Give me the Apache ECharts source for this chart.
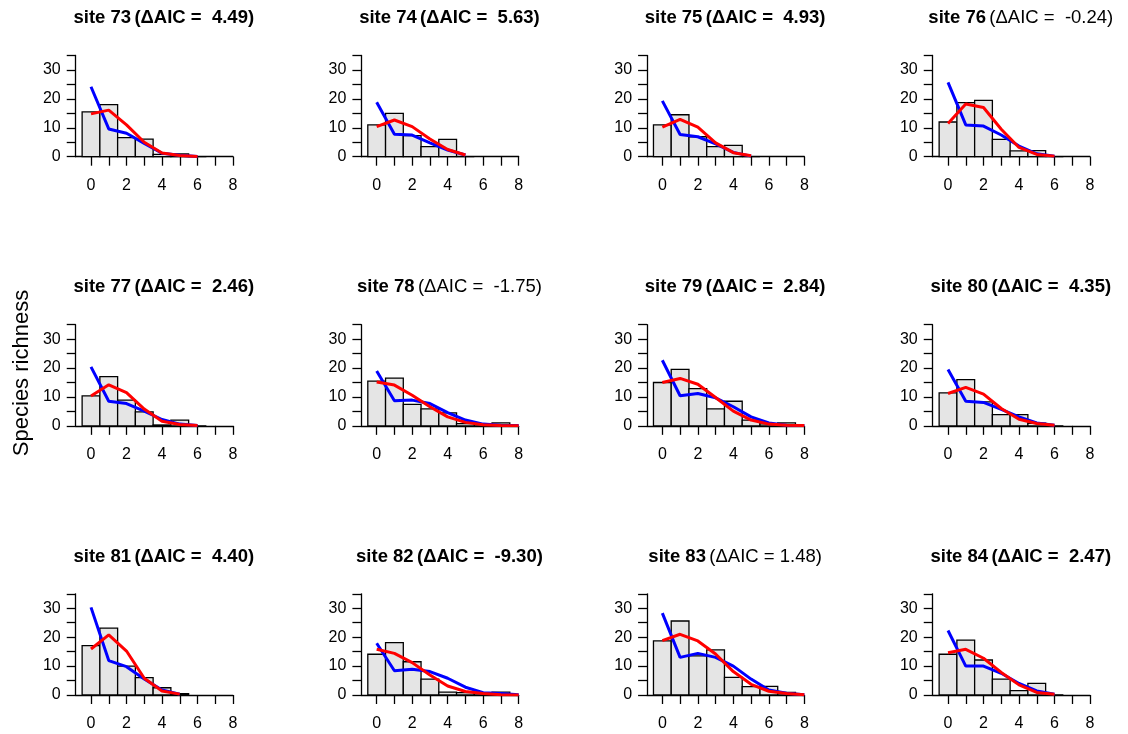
<!DOCTYPE html>
<html>
<head>
<meta charset="utf-8">
<script src="https://cdn.jsdelivr.net/npm/echarts@6/dist/echarts.min.js"></script>
<style>
  html, body { margin: 0; padding: 0; background: #fff; }
  #chart { width: 1128px; height: 734px; }
</style>
</head>
<body>
<div id="chart"></div>
<script>
// Site identifiers and model comparison per panel
const sites = [73, 74, 75, 76, 77, 78, 79, 80, 81, 82, 83, 84];
const deltaAIC = [4.49, 5.63, 4.93, -0.24, 2.46, -1.75, 2.84, 4.35, 4.40, -9.30, 1.48, 2.47];
const aicLabels = [
  '(ΔAIC =  4.49)', '(ΔAIC =  5.63)', '(ΔAIC =  4.93)', '(ΔAIC =  -0.24)',
  '(ΔAIC =  2.46)', '(ΔAIC =  -1.75)', '(ΔAIC =  2.84)', '(ΔAIC =  4.35)',
  '(ΔAIC =  4.40)', '(ΔAIC =  -9.30)', '(ΔAIC = 1.48)', '(ΔAIC =  2.47)'
];

// Observed species richness per class (histogram bars, classes 0,1,2,...)
const observed = [
  [15.5, 18.0, 6.6, 6.1, 0.8, 1.0, 0.0],
  [11.0, 15.0, 7.3, 3.5, 6.0, 0.0],
  [11.0, 14.5, 6.9, 3.5, 3.9, 0.0],
  [12.0, 18.7, 19.5, 6.0, 2.0, 2.1, 0.0],
  [10.4, 17.0, 8.9, 4.8, 0.3, 2.0, 0.0],
  [15.5, 16.5, 7.4, 5.9, 4.5, 0.8, 0.0, 1.0],
  [15.0, 19.5, 12.9, 5.9, 8.5, 2.0, 0.7, 1.0],
  [11.4, 16.0, 8.3, 3.9, 3.9, 0.9, 0.0],
  [17.1, 23.1, 10.0, 6.0, 2.5, 0.5],
  [14.1, 18.1, 11.5, 5.5, 1.0, 0.8, 0.8, 1.0],
  [18.7, 25.6, 13.5, 15.6, 6.1, 2.9, 3.0, 0.9],
  [14.1, 19.0, 12.1, 5.5, 1.5, 4.0, 0.0]
];

// First fitted model (blue)
const fitBlue = [
  [24.2, 9.6, 8.1, 4.6, 1.2, 0.5, 0.1],
  [18.8, 7.8, 7.5, 4.8, 2.3, 0.6],
  [19.3, 7.7, 6.9, 4.4, 1.5, 0.2],
  [25.7, 11.0, 10.6, 7.5, 3.7, 1.0, 0.2],
  [20.4, 8.5, 7.7, 5.1, 2.2, 0.6, 0.1],
  [19.0, 8.7, 8.9, 7.7, 4.6, 2.0, 0.6, 0.2, 0.1],
  [22.7, 10.4, 11.2, 9.7, 6.6, 3.1, 1.0, 0.2, 0.1],
  [19.5, 8.5, 8.1, 5.7, 3.1, 1.0, 0.2],
  [30.3, 11.9, 9.8, 5.5, 1.7, 0.3],
  [17.9, 8.4, 8.9, 8.1, 5.8, 2.7, 0.8, 0.5, 0.1],
  [28.3, 13.0, 14.4, 13.0, 10.0, 5.5, 1.7, 0.6, 0.1],
  [22.3, 10.0, 10.0, 7.5, 4.0, 1.4, 0.3]
];

// Second fitted model (red)
const fitRed = [
  [14.8, 16.1, 11.0, 5.0, 1.3, 0.4, 0.1],
  [10.4, 12.7, 10.4, 6.1, 2.5, 0.6],
  [10.2, 12.9, 10.2, 4.8, 1.4, 0.3],
  [11.5, 18.2, 17.0, 9.5, 3.2, 0.8, 0.2],
  [10.3, 14.2, 11.5, 5.8, 1.6, 0.5, 0.1],
  [15.2, 14.1, 10.6, 6.6, 3.1, 1.2, 0.4, 0.1, 0.0],
  [15.0, 16.4, 14.4, 9.8, 5.1, 2.0, 0.6, 0.2, 0.1],
  [11.2, 13.3, 11.0, 6.0, 2.3, 0.8, 0.2],
  [15.9, 20.8, 15.2, 5.8, 1.4, 0.3],
  [15.8, 14.4, 11.2, 6.9, 3.1, 1.2, 0.5, 0.1, 0.0],
  [18.8, 21.0, 18.7, 14.2, 8.1, 3.7, 1.3, 0.5, 0.1],
  [14.6, 15.8, 12.7, 7.8, 3.5, 0.9, 0.3]
];

const xTicks = [0, 1, 2, 3, 4, 5, 6, 7, 8];
const xLabels = [0, 2, 4, 6, 8];
const yLabels = [0, 10, 20, 30];

// Panel geometry (pixels)
const NCOL = 4;
const X_MIN = -0.86, X_MAX = 8, Y_MAX = 35;
const PX_X = 17.75;           // px per x unit
const PLOT_H = 101.2;         // px for 0..35
const COL0 = 91, COL_STEP = 285.67;
const ROW0 = 156.7, ROW_STEP = 269.15;

const FONT = '"Liberation Sans", Arial, Helvetica, sans-serif';
const AXIS_FONT = 16;
const TITLE_FONT = 18.5;

const grids = [], xAxes = [], yAxes = [], series = [], graphics = [];

sites.forEach((site, k) => {
  const c = k % NCOL, r = Math.floor(k / NCOL);
  const x0 = COL0 + COL_STEP * c;
  const y0 = ROW0 + ROW_STEP * r;
  grids.push({
    left: x0 + X_MIN * PX_X,
    top: y0 - PLOT_H,
    width: (X_MAX - X_MIN) * PX_X,
    height: PLOT_H
  });
  xAxes.push({
    type: 'value', gridIndex: k, min: X_MIN, max: X_MAX,
    axisLine: { show: true, onZero: false, lineStyle: { color: '#000', width: 1.3 } },
    axisTick: { show: true, length: 9, customValues: xTicks, lineStyle: { color: '#000', width: 1.3 } },
    axisLabel: { customValues: xLabels, color: '#000', fontSize: AXIS_FONT, fontFamily: FONT, margin: 21 },
    splitLine: { show: false }
  });
  yAxes.push({
    type: 'value', gridIndex: k, min: 0, max: Y_MAX, interval: 5,
    axisLine: { show: true, onZero: false, lineStyle: { color: '#000', width: 1.3 } },
    axisTick: { show: true, length: 9, lineStyle: { color: '#000', width: 1.3 } },
    axisLabel: { customValues: yLabels, color: '#000', fontSize: AXIS_FONT, fontFamily: FONT, margin: 15 },
    splitLine: { show: false }
  });

  // histogram bars: one unit wide, centred on each class
  series.push({
    type: 'custom', xAxisIndex: k, yAxisIndex: k,
    data: observed[k].map((v, i) => [i, v]),
    encode: { x: 0, y: 1 },
    renderItem: (params, api) => {
      const i = api.value(0), v = api.value(1);
      const p0 = api.coord([i - 0.5, v]);
      const p1 = api.coord([i + 0.5, 0]);
      return {
        type: 'rect',
        shape: { x: p0[0], y: p0[1], width: p1[0] - p0[0], height: p1[1] - p0[1] },
        style: { fill: '#e5e5e5', stroke: '#000', lineWidth: 1.3 }
      };
    },
    silent: true, animation: false
  });
  series.push({
    type: 'line', xAxisIndex: k, yAxisIndex: k,
    data: fitBlue[k].map((v, i) => [i, v]),
    showSymbol: false, lineStyle: { color: '#0000ff', width: 3 },
    silent: true, animation: false, z: 3
  });
  series.push({
    type: 'line', xAxisIndex: k, yAxisIndex: k,
    data: fitRed[k].map((v, i) => [i, v]),
    showSymbol: false, lineStyle: { color: '#ff0000', width: 3 },
    silent: true, animation: false, z: 4
  });

  const strong = Math.abs(deltaAIC[k]) > 2;
  graphics.push({
    type: 'text',
    x: x0 + 4.1 * PX_X,
    y: y0 - 138.5,
    style: {
      text: `{b|site ${site}} {${strong ? 'b' : 'n'}|${aicLabels[k]}}`,
      align: 'center', verticalAlign: 'middle',
      rich: {
        b: { fontFamily: FONT, fontSize: TITLE_FONT, fontWeight: 'bold', fill: '#000', color: '#000' },
        n: { fontFamily: FONT, fontSize: TITLE_FONT, fontWeight: 'normal', fill: '#000', color: '#000' }
      }
    }
  });
});

graphics.push({
  type: 'text',
  x: 22, y: 373,
  rotation: Math.PI / 2,
  style: {
    text: 'Species richness',
    font: `22px ${FONT}`,
    fill: '#000',
    align: 'center', verticalAlign: 'middle'
  }
});

const chart = echarts.init(document.getElementById('chart'), null, { renderer: 'canvas' });
chart.setOption({
  animation: false,
  backgroundColor: '#fff',
  grid: grids,
  xAxis: xAxes,
  yAxis: yAxes,
  series: series,
  graphic: graphics
});
</script>
</body>
</html>
